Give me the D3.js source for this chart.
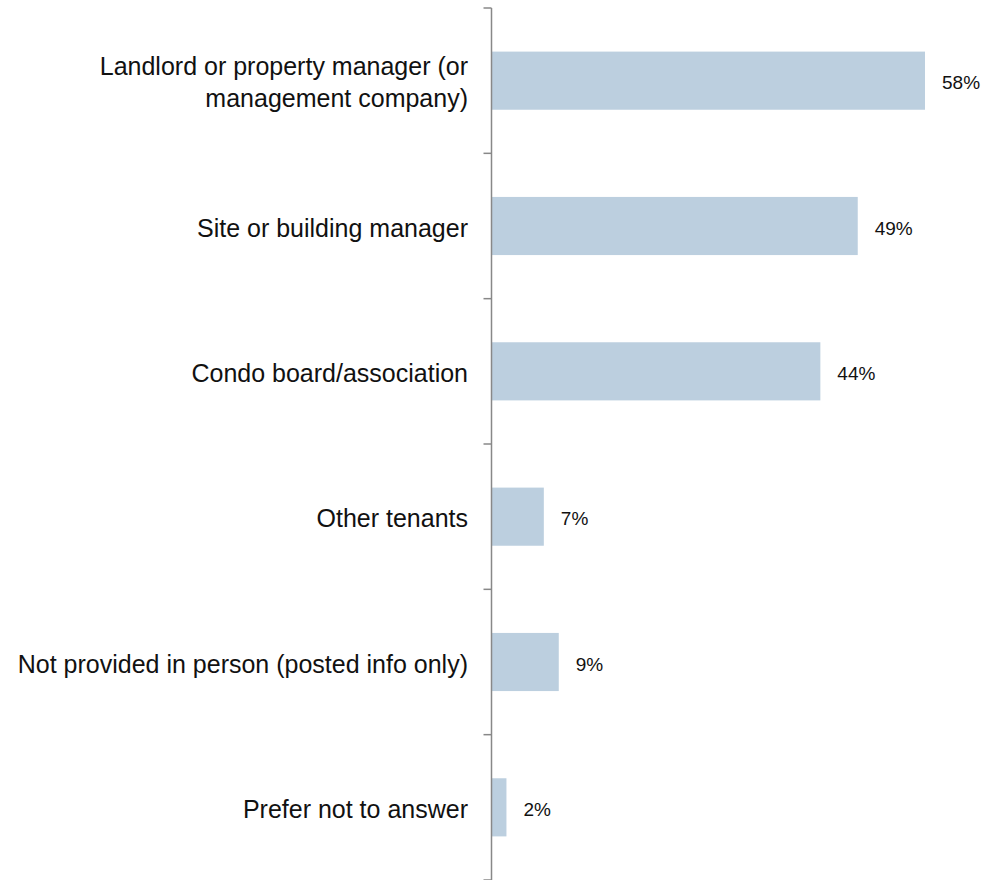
<!DOCTYPE html>
<html><head><meta charset="utf-8">
<script src="https://cdn.jsdelivr.net/npm/d3@7"></script>
<style>body{margin:0;background:#fff}svg{display:block}</style>
</head><body>
<script>
const categories = [
  ["Landlord or property manager (or", "management company)"],
  ["Site or building manager"],
  ["Condo board/association"],
  ["Other tenants"],
  ["Not provided in person (posted info only)"],
  ["Prefer not to answer"]
];
const values = [58, 49, 44, 7, 9, 2];
const valueLabels = ["58%", "49%", "44%", "7%", "9%", "2%"];

const W = 986, H = 880;
const svg = d3.select("body").append("svg").attr("width", W).attr("height", H);
const x0 = 491.5;
const x = d3.scaleLinear().domain([0, 58]).range([x0, 925]);
const ids = categories.map((c, i) => i);
const y = d3.scaleBand().domain(ids).range([8, 880]).paddingInner(0.6).paddingOuter(0.3);
const step = y.step();

const font = "'Liberation Sans', Arial, sans-serif";

svg.selectAll("rect.bar").data(values).enter().append("rect")
  .attr("class", "bar")
  .attr("x", x(0))
  .attr("y", (d, i) => y(i))
  .attr("width", d => x(d) - x(0))
  .attr("height", y.bandwidth())
  .attr("fill", "#bccfdf");

// axis line & ticks at band boundaries
const g = svg.append("g").attr("stroke", "#888").attr("stroke-width", 1.5);
g.append("line").attr("x1", x0).attr("x2", x0).attr("y1", 8).attr("y2", 880);
const bounds = d3.range(categories.length + 1).map(i => 8 + i * step);
g.selectAll("line.tick").data(bounds).enter().append("line")
  .attr("x1", x0 - 8).attr("x2", x0).attr("y1", d => d).attr("y2", d => d);

// category labels
categories.forEach((lines, i) => {
  const cy = y(i) + y.bandwidth() / 2 + 2;
  const lh = 32;
  const t = svg.append("text")
    .attr("x", 468).attr("text-anchor", "end")
    .attr("font-family", font).attr("font-size", 25).attr("fill", "#111");
  lines.forEach((l, j) => {
    t.append("tspan").attr("x", 468)
      .attr("y", cy + (j - (lines.length - 1) / 2) * lh)
      .attr("dy", "0.35em").text(l);
  });
});

// value labels
svg.selectAll("text.val").data(values).enter().append("text")
  .attr("class", "val")
  .attr("x", d => x(d) + 17)
  .attr("y", (d, i) => y(i) + y.bandwidth() / 2 + 2)
  .attr("dy", "0.35em")
  .attr("font-family", font).attr("font-size", 19).attr("fill", "#111")
  .text((d, i) => valueLabels[i]);
</script>
</body></html>
